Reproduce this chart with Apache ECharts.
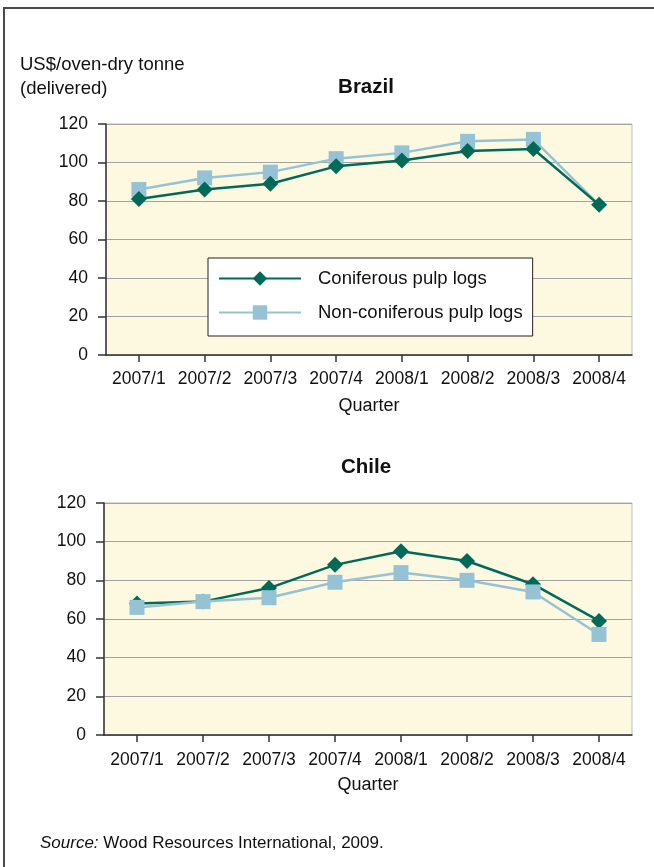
<!DOCTYPE html>
<html>
<head>
<meta charset="utf-8">
<style>
  html, body { margin: 0; padding: 0; background: #fff; }
  #frame { position: absolute; left: 3px; top: 7px; width: 700px; height: 900px;
           border-left: 2px solid #4a4a4a; border-top: 2px solid #4a4a4a; box-sizing: border-box; }
  #chart { position: absolute; left: 0; top: 0; width: 654px; height: 867px; }
</style>
<script src="https://cdn.jsdelivr.net/npm/echarts@6/dist/echarts.min.js"></script>
</head>
<body>
<div id="frame"></div>
<div id="chart"></div>
<script>
// Quarterly pulp log prices, US$/oven-dry tonne (delivered)
const quarters = ['2007/1', '2007/2', '2007/3', '2007/4', '2008/1', '2008/2', '2008/3', '2008/4'];
const brazilConiferous = [81, 86, 89, 98, 101, 106, 107, 78];
const brazilNonConiferous = [86, 92, 95, 102, 105, 111, 112, 78];
const chileConiferous = [68, 69, 76, 88, 95, 90, 78, 59];
const chileNonConiferous = [66, 69, 71, 79, 84, 80, 74, 52];
const yTicks = [0, 20, 40, 60, 80, 100, 120];
const seriesNames = ['Coniferous pulp logs', 'Non-coniferous pulp logs'];

const FONT = '"Liberation Sans", Arial, Helvetica, sans-serif';
const DARK = '#006a58';
const LIGHT = '#95c3d5';

const chart = echarts.init(document.getElementById('chart'), null, { renderer: 'canvas' });

function yAxis(gridIndex) {
  return {
    type: 'value', gridIndex,
    min: yTicks[0], max: yTicks[yTicks.length - 1], interval: yTicks[1] - yTicks[0],
    axisLine: { show: true, lineStyle: { color: '#333', width: 1.5 } },
    axisTick: { show: true, length: 8, lineStyle: { color: '#333', width: 1.5 } },
    axisLabel: { fontFamily: FONT, fontSize: 17.5, color: '#111', margin: 18 },
    splitLine: { show: true, lineStyle: { color: '#a3a3a3', width: 1 } }
  };
}

function xAxis(gridIndex, labelMargin, nameGap) {
  return {
    type: 'category', gridIndex, data: quarters, boundaryGap: true,
    name: 'Quarter', nameLocation: 'middle', nameGap,
    nameTextStyle: { fontFamily: FONT, fontSize: 18, color: '#111' },
    axisLine: { show: true, lineStyle: { color: '#333', width: 1.5 } },
    axisTick: { show: true, alignWithLabel: true, length: 7, lineStyle: { color: '#333', width: 1.5 } },
    axisLabel: { fontFamily: FONT, fontSize: 17.5, color: '#111', margin: labelMargin, interval: 0 },
    splitLine: { show: false }
  };
}

function lineSeries(name, data, axisIndex, isDark, z) {
  return {
    name, type: 'line', data,
    xAxisIndex: axisIndex, yAxisIndex: axisIndex,
    symbol: isDark ? 'diamond' : 'rect',
    symbolSize: isDark ? 16 : 15,
    showAllSymbol: true,
    lineStyle: { color: isDark ? DARK : LIGHT, width: 2.5 },
    itemStyle: { color: isDark ? DARK : LIGHT },
    z,
    animation: false
  };
}

// Brazil's final non-coniferous point coincides with the coniferous one; only the line reaches it
const brazilNonData = brazilNonConiferous.map((v, i) =>
  i === brazilNonConiferous.length - 1 ? { value: v, symbol: 'none' } : v);

chart.setOption({
  animation: false,
  textStyle: { fontFamily: FONT },
  title: [
    { text: 'US$/oven-dry tonne\n(delivered)', left: 20, top: 53, padding: 0,
      textStyle: { fontFamily: FONT, fontSize: 18.5, fontWeight: 'normal', color: '#111', lineHeight: 24 } },
    { text: 'Brazil', left: 366, top: 77, textAlign: 'center', padding: 0,
      textStyle: { fontFamily: FONT, fontSize: 20.5, fontWeight: 'bold', color: '#111' } },
    { text: 'Chile', left: 366, top: 457, textAlign: 'center', padding: 0,
      textStyle: { fontFamily: FONT, fontSize: 20.5, fontWeight: 'bold', color: '#111' } },
    { text: '{i|Source:} Wood Resources International, 2009.', left: 40, top: 835, padding: 0,
      textStyle: { fontFamily: FONT, fontSize: 17, fontWeight: 'normal', color: '#111',
        rich: { i: { fontFamily: FONT, fontSize: 17, fontStyle: 'italic', color: '#111' } } } }
  ],
  legend: {
    data: seriesNames,
    orient: 'vertical',
    left: 208, top: 258,
    backgroundColor: '#fff',
    borderColor: '#222', borderWidth: 1,
    padding: [11, 10, 14, 10],
    itemWidth: 82, itemHeight: 18, itemGap: 15,
    textStyle: { fontFamily: FONT, fontSize: 18.5, color: '#111', padding: [0, 0, 0, 12], width: 206 }
  },
  grid: [
    { left: 106, right: 22, top: 124, height: 231, show: true,
      backgroundColor: '#fdf8e0', borderColor: '#bdbdbd', borderWidth: 1 },
    { left: 104, right: 22, top: 503, height: 232, show: true,
      backgroundColor: '#fdf8e0', borderColor: '#bdbdbd', borderWidth: 1 }
  ],
  xAxis: [xAxis(0, 15, 42), xAxis(1, 16, 41)],
  yAxis: [yAxis(0), yAxis(1)],
  series: [
    lineSeries(seriesNames[1], brazilNonData, 0, false, 2),
    lineSeries(seriesNames[0], brazilConiferous, 0, true, 3),
    lineSeries(seriesNames[0], chileConiferous, 1, true, 2),
    lineSeries(seriesNames[1], chileNonConiferous, 1, false, 3)
  ]
});
</script>
</body>
</html>
